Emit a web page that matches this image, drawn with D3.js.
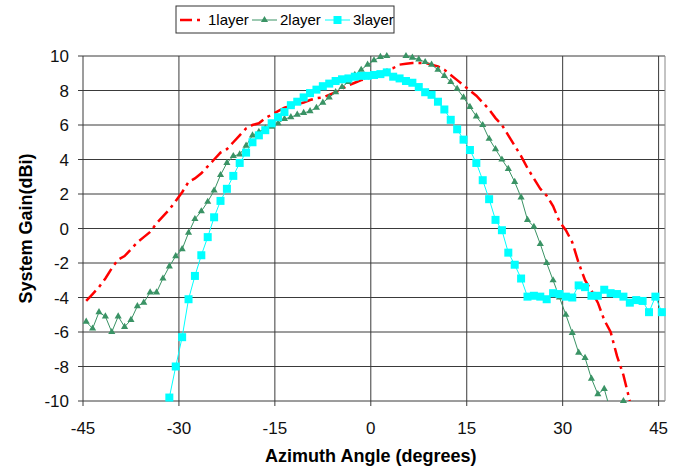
<!DOCTYPE html>
<html>
<head>
<meta charset="utf-8">
<script src="https://cdn.jsdelivr.net/npm/d3@7"></script>
<style>
  body { margin: 0; background: #fff; }
  text { font-family: Arial, "Liberation Sans", sans-serif; }
</style>
</head>
<body>
<svg id="chart" width="684" height="466"></svg>
<script>
// angles are whole degrees, each point sits in the middle of its 1-degree slot
var xTicks = [-45, -30, -15, 0, 15, 30, 45];
var yTicks = [10, 8, 6, 4, 2, 0, -2, -4, -6, -8, -10];
var seriesNames = ['1layer', '2layer', '3layer'];

// 1layer: -45 .. 40
var layer1Start = -45;
var layer1 = [
  -4.2, -3.8, -3.4, -2.9, -2.3, -1.8, -1.6, -1.2, -0.8, -0.5,
  -0.2, 0.3, 0.7, 1.1, 1.6, 2.1, 2.7, 2.9, 3.2, 3.6,
  4.0, 4.4, 4.6, 5.0, 5.4, 5.8, 6.0, 6.1, 6.4, 6.6,
  6.8, 7.0, 7.1, 7.2, 7.3, 7.45, 7.55, 7.6, 7.75, 7.9,
  8.1, 8.3, 8.45, 8.6, 8.7, 8.9, 9.0, 9.2, 9.3, 9.5,
  9.55, 9.6, 9.6, 9.6, 9.5, 9.4, 9.2, 8.9, 8.6, 8.3,
  8.0, 7.7, 7.3, 6.9, 6.4, 6.0, 5.4, 4.8, 4.2, 3.5,
  2.9, 2.3, 1.9, 1.3, 0.4, -0.1, -0.8, -2.0, -3.0, -3.6,
  -4.3, -5.3, -6.0, -7.4, -8.5, -10.0
];

// 2layer: -45 .. 39
var layer2Start = -45;
var layer2 = [
  -5.4, -5.8, -4.85, -5.1, -6.0, -5.1, -5.7, -5.3, -4.5, -4.3,
  -3.7, -3.7, -2.9, -2.2, -1.6, -1.2, -0.25, 0.55, 1.0, 1.55,
  2.2, 3.1, 3.8, 4.2, 4.3, 4.8, 5.4, 5.6, 5.8, 5.9,
  6.1, 6.35, 6.45, 6.6, 6.7, 6.8, 7.0, 7.3, 7.6, 7.9,
  8.2, 8.5, 8.9, 9.2, 9.5, 9.75, 9.95, 10.0, 10.15, 10.15,
  10.0, 9.9, 9.8, 9.65, 9.5, 9.2, 8.85, 8.5, 8.1, 7.6,
  7.05, 6.5, 6.0, 5.2, 4.6, 4.0, 3.45, 2.7, 1.8, 0.5,
  0.1, -0.9, -2.0, -3.0, -4.0, -5.0, -6.05, -7.2, -7.5, -8.7,
  -9.6, -9.3, -10.6, -10.8, -10.0
];

// 3layer: -32 .. 45
var layer3Start = -32;
var layer3 = [
  -9.8, -8.0, -6.3, -4.1, -2.75, -1.55, -0.5, 0.65, 1.6, 2.3,
  3.05, 3.8, 4.4, 5.0, 5.4, 5.7, 6.1, 6.45, 6.75, 7.15,
  7.35, 7.6, 7.85, 8.05, 8.25, 8.4, 8.55, 8.65, 8.7, 8.8,
  8.85, 8.85, 8.9, 8.95, 9.05, 8.8, 8.7, 8.55, 8.45, 8.2,
  7.9, 7.75, 7.35, 6.9, 6.3, 5.75, 5.15, 4.55, 3.8, 2.8,
  1.7, 0.5, -0.1, -1.4, -2.1, -2.9, -3.95, -3.9, -3.95, -4.1,
  -3.75, -3.8, -3.95, -4.0, -3.3, -3.4, -3.9, -3.9, -3.55, -3.75,
  -3.8, -3.95, -4.3, -4.15, -4.2, -4.85, -3.95, -4.85
];

function toPoints(start, values) {
  return values.map(function(v, i) { return { angle: start + i, gain: v }; });
}

var svg = d3.select('#chart');
var margin = { left: 83, right: 19, top: 56, bottom: 65 };
var width = 684 - margin.left - margin.right;
var height = 466 - margin.top - margin.bottom;

// 91 slots from -45 to 45, so the axis runs to 46
var x = d3.scaleLinear().domain([-45, 46]).range([0, width]);
var y = d3.scaleLinear().domain([-10, 10]).range([height, 0]);

var g = svg.append('g')
  .attr('transform', 'translate(' + margin.left + ',' + margin.top + ')');

g.append('defs').append('clipPath').attr('id', 'plotClip')
  .append('rect')
    .attr('x', 0).attr('y', 0)
    .attr('width', width).attr('height', height);

// Grid
g.selectAll('.hgrid').data(yTicks).enter()
  .append('line')
    .attr('class', 'hgrid')
    .attr('x1', -5).attr('x2', width)
    .attr('y1', function(d) { return y(d); })
    .attr('y2', function(d) { return y(d); })
    .attr('stroke', '#3a3a3a')
    .attr('stroke-width', 1);

g.selectAll('.vgrid').data(xTicks).enter()
  .append('line')
    .attr('class', 'vgrid')
    .attr('x1', function(d) { return x(d); })
    .attr('x2', function(d) { return x(d); })
    .attr('y1', 0).attr('y2', height + 5)
    .attr('stroke', '#3a3a3a')
    .attr('stroke-width', 1);

// right edge of the plot area
g.append('line')
  .attr('x1', width).attr('x2', width)
  .attr('y1', 0).attr('y2', height)
  .attr('stroke', '#888')
  .attr('stroke-width', 1);

// Tick labels
g.selectAll('.ylab').data(yTicks).enter()
  .append('text')
    .attr('x', -14)
    .attr('y', function(d) { return y(d); })
    .attr('dy', '0.36em')
    .attr('text-anchor', 'end')
    .attr('font-size', 17)
    .attr('fill', '#111')
    .text(function(d) { return d; });

g.selectAll('.xlab').data(xTicks).enter()
  .append('text')
    .attr('x', function(d) { return x(d); })
    .attr('y', height + 33)
    .attr('text-anchor', 'middle')
    .attr('font-size', 17)
    .attr('fill', '#111')
    .text(function(d) { return d; });

// Axis titles
svg.append('text')
  .attr('x', margin.left + x(0))
  .attr('y', 462)
  .attr('text-anchor', 'middle')
  .attr('font-size', 18)
  .attr('font-weight', 'bold')
  .text('Azimuth Angle (degrees)');

svg.append('text')
  .attr('transform', 'translate(32,' + (margin.top + y(0)) + ') rotate(-90)')
  .attr('text-anchor', 'middle')
  .attr('font-size', 18)
  .attr('font-weight', 'bold')
  .text('System Gain(dBi)');

var line = d3.line()
  .x(function(d) { return x(d.angle + 0.5); })
  .y(function(d) { return y(d.gain); });

var plot = g.append('g').attr('clip-path', 'url(#plotClip)');

function inRange(d) { return d.gain >= -10.05 && d.gain <= 10.05; }

// 1layer: red dash-dot, no markers
plot.append('path')
  .datum(toPoints(layer1Start, layer1))
  .attr('d', line)
  .attr('fill', 'none')
  .attr('stroke', '#ff0000')
  .attr('stroke-width', 2.5)
  .attr('stroke-dasharray', '14,5,3,5');

// 2layer: green line with triangles
var pts2 = toPoints(layer2Start, layer2);
plot.append('path')
  .datum(pts2)
  .attr('d', line)
  .attr('fill', 'none')
  .attr('stroke', '#3a9365')
  .attr('stroke-width', 1);

var tri = d3.symbol().type(d3.symbolTriangle).size(22);
g.selectAll('.tri').data(pts2.filter(inRange)).enter()
  .append('path')
    .attr('class', 'tri')
    .attr('d', tri)
    .attr('transform', function(d) {
      return 'translate(' + x(d.angle + 0.5) + ',' + y(d.gain) + ')';
    })
    .attr('fill', '#3a9365');

// 3layer: cyan line with squares
var pts3 = toPoints(layer3Start, layer3);
plot.append('path')
  .datum(pts3)
  .attr('d', line)
  .attr('fill', 'none')
  .attr('stroke', '#00ffff')
  .attr('stroke-width', 1);

g.selectAll('.sq').data(pts3.filter(inRange)).enter()
  .append('rect')
    .attr('class', 'sq')
    .attr('x', function(d) { return x(d.angle + 0.5) - 4; })
    .attr('y', function(d) { return y(d.gain) - 4; })
    .attr('width', 8)
    .attr('height', 8)
    .attr('fill', '#00ffff');

// Legend
var legend = svg.append('g').attr('transform', 'translate(176,6)');
legend.append('rect')
  .attr('width', 218).attr('height', 27)
  .attr('fill', '#fff')
  .attr('stroke', '#333')
  .attr('stroke-width', 1);

var legendX = [4, 76, 149];
var legendItems = legend.selectAll('.item').data(seriesNames).enter()
  .append('g')
    .attr('class', 'item')
    .attr('transform', function(d, i) { return 'translate(' + legendX[i] + ',14)'; });

legendItems.append('line')
  .attr('x1', 0).attr('x2', 25)
  .attr('stroke', function(d, i) { return ['#ff0000', '#3a9365', '#00ffff'][i]; })
  .attr('stroke-width', function(d, i) { return i === 0 ? 2.5 : 1; })
  .attr('stroke-dasharray', function(d, i) { return i === 0 ? '12,5,3,5' : null; });

legendItems.filter(function(d, i) { return i === 1; })
  .append('path')
    .attr('d', tri)
    .attr('transform', 'translate(12.5,0)')
    .attr('fill', '#3a9365');

legendItems.filter(function(d, i) { return i === 2; })
  .append('rect')
    .attr('x', 8.5).attr('y', -4)
    .attr('width', 8).attr('height', 8)
    .attr('fill', '#00ffff');

legendItems.append('text')
  .attr('x', 28)
  .attr('dy', '0.35em')
  .attr('font-size', 15)
  .text(function(d) { return d; });
</script>
</body>
</html>
